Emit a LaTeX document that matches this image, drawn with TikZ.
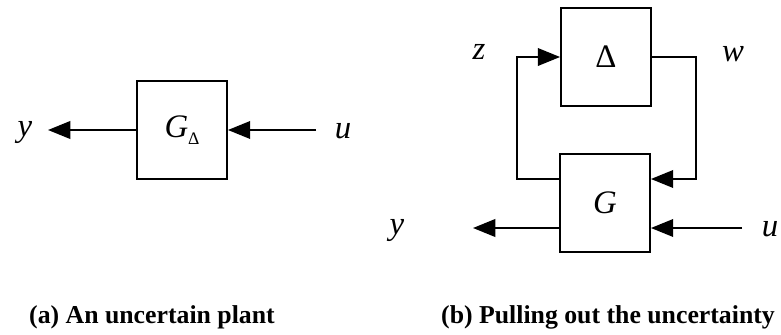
\documentclass[tikz,border=0pt]{standalone}
\usepackage{fontspec}
\setmainfont{Liberation Serif}
\usetikzlibrary{arrows.meta,calc}

\begin{document}
\begin{tikzpicture}[x=0.03cm,y=-0.03cm,
  blk/.style={draw,line width=1.6pt,minimum width=2.7cm,minimum height=2.94cm,inner sep=0pt,
    font=\fontsize{28}{30}\selectfont},
  sig/.style={line width=1.6pt,-{Triangle[length=19pt,width=15pt]}},
  lbl/.style={font=\fontsize{28}{30}\selectfont\itshape},
  capt/.style={font=\fontsize{22}{24}\selectfont\bfseries}]
\useasboundingbox (0,0) rectangle (781,334);
% (a) the plant with its uncertainty inside
\node[blk] (ga) at (182,130) {\textit{G}\raisebox{-0.45ex}{\fontsize{15}{15}\selectfont Δ}};
\node[lbl] (ya) at (25,133) {y};
\node[lbl] (ua) at (343,131) {u};
\coordinate (yatip) at (48,130);
\coordinate (uatail) at (316,130);
\draw[sig] (ga.west) -- (yatip);
\draw[sig] (uatail) -- (ga.east);
% (b) the uncertainty pulled out of G
\node[blk] (dl) at (606,57) {Δ};
\node[blk] (g) at (605,203) {\textit{G}};
\node[lbl] (yb) at (397,231) {y};
\node[lbl] (ub) at (770,229) {u};
\node[lbl] (z) at (479,52) {z};
\node[lbl] (w) at (733,54) {w};
\coordinate (ybtip) at (473,228);
\coordinate (ubtail) at (742,228);
\draw[sig] ($(g.west)+(0,25)$) -- (ybtip);
\draw[sig] (ubtail) -- ($(g.east)+(0,25)$);
\draw[sig] ($(g.west)+(0,-24)$) -| (517,57) -- (dl.west);
\draw[sig] (dl.east) -| (696,179) -- ($(g.east)+(0,-24)$);
% captions
\node[capt] (capa) at (152,317) {(a) An uncertain plant};
\node[capt] (capb) at (608,317) {(b) Pulling out the uncertainty};
\end{tikzpicture}
\end{document}
